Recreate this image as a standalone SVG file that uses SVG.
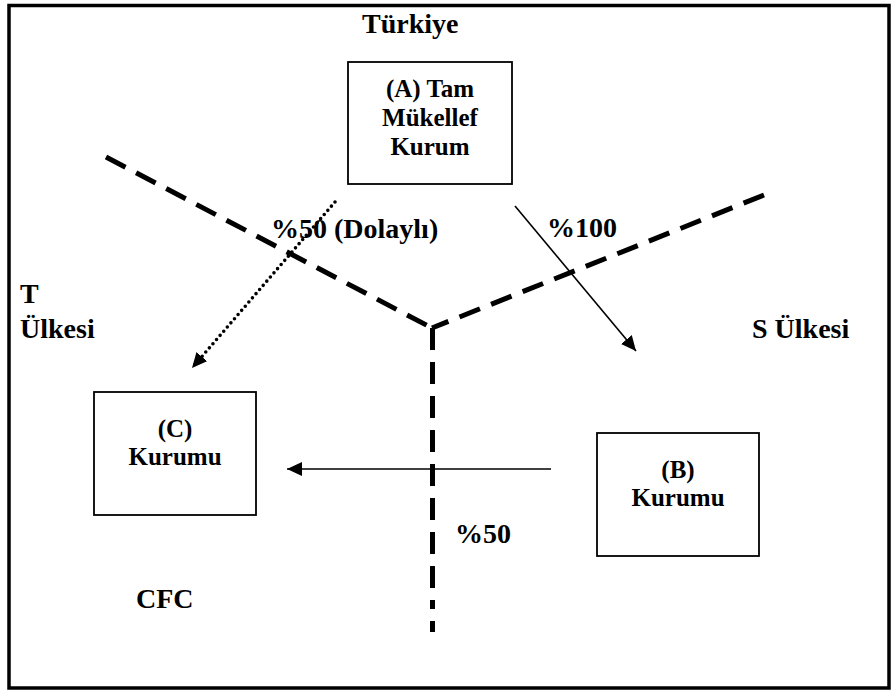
<svg xmlns="http://www.w3.org/2000/svg" width="895" height="691" viewBox="0 0 895 691">
<style>
  .frame{fill:none;stroke:#000;stroke-width:3.5}
  .box{fill:#fff;stroke:#000;stroke-width:1.8}
  .bt{font-family:"Liberation Serif","Times New Roman",serif;font-weight:bold;font-size:25px;fill:#000;text-anchor:middle}
  .lbl{font-family:"Liberation Serif","Times New Roman",serif;font-weight:bold;font-size:28px;fill:#000}
  .border{fill:none;stroke:#000;stroke-width:5;stroke-dasharray:22 12}
  .solid{fill:none;stroke:#000;stroke-width:1.6}
  .dotted{fill:none;stroke:#000;stroke-width:3.6;stroke-dasharray:0 5.5;stroke-linecap:round}
</style>
<defs>
  <marker id="ah" markerUnits="userSpaceOnUse" markerWidth="16" markerHeight="14" refX="15" refY="7" orient="auto">
    <path d="M0,0 L15,7 L0,14 z" fill="#000"/>
  </marker>
</defs>
<rect class="frame" x="9" y="5.5" width="880" height="682.5"/>

<g id="borders">
  <line class="border" x1="106" y1="157" x2="432" y2="328"/>
  <line class="border" x1="764" y1="195" x2="432" y2="328"/>
  <line class="border" x1="432.5" y1="328" x2="432.5" y2="632" style="stroke-dasharray:22 12 22 12 22 12 22 12 22 12 22 12 22 12 22 12 9 12"/>
</g>

<g id="labels">
  <text class="lbl" x="362" y="33">Türkiye</text>
  <text class="lbl" x="20" y="303">T</text>
  <text class="lbl" x="20" y="338">Ülkesi</text>
  <text class="lbl" x="752" y="338">S Ülkesi</text>
  <text class="lbl" x="136" y="608">CFC</text>
</g>

<g id="connectors">
  <line class="dotted" x1="335" y1="202" x2="192" y2="368" marker-end="url(#ah)"/>
  <line class="solid" x1="515" y1="206" x2="636" y2="351" marker-end="url(#ah)"/>
  <line class="solid" x1="551" y1="469" x2="287" y2="469" marker-end="url(#ah)"/>
  <text class="lbl" x="271" y="238">%50 (Dolaylı)</text>
  <text class="lbl" x="547" y="237">%100</text>
  <text class="lbl" x="455" y="543">%50</text>
</g>

<g id="nodeA">
  <rect class="box" x="348" y="62" width="164" height="122"/>
  <text class="bt" x="430" y="97">(A) Tam</text>
  <text class="bt" x="430" y="126">Mükellef</text>
  <text class="bt" x="430" y="155">Kurum</text>
</g>

<g id="nodeC">
  <rect class="box" x="94" y="392" width="162" height="123"/>
  <text class="bt" x="175" y="437">(C)</text>
  <text class="bt" x="175" y="465">Kurumu</text>
</g>

<g id="nodeB">
  <rect class="box" x="597" y="433" width="162" height="123"/>
  <text class="bt" x="678" y="478">(B)</text>
  <text class="bt" x="678" y="506">Kurumu</text>
</g>
</svg>
